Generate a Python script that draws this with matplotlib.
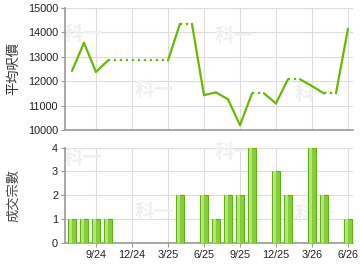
import matplotlib
matplotlib.use("Agg")
import matplotlib.pyplot as plt

plt.rcParams['font.family'] = ['Liberation Sans', 'Noto Sans CJK TC', 'DejaVu Sans']

# datos (jul/24 - jun/26), None = mes sin transacciones
months = ["7/24", "8/24", "9/24", "10/24", "11/24", "12/24", "1/25", "2/25",
          "3/25", "4/25", "5/25", "6/25", "7/25", "8/25", "9/25", "10/25",
          "11/25", "12/25", "1/26", "2/26", "3/26", "4/26", "5/26", "6/26"]
avg_price = [12420, 13570, 12380, 12850, None, None, None, None,
             None, 14350, None, 11430, 11540, 11260, 10200, 11500,
             None, 11090, 12080, None, 11800, 11500, None, 14150]
deals = [1, 1, 1, 1, 0, 0, 0, 0, 0, 2, 0, 2, 1, 2, 2, 4, 0, 3, 2, 0, 4, 2, 0, 1]
tick_idx = [2, 5, 8, 11, 14, 17, 20, 23]

green = '#66bb00'
grid_c = '#dcdcdc'

fig = plt.figure(figsize=(3.6, 2.7), dpi=100)
ax1 = fig.add_axes([0.1806, 0.5185, 0.8, 0.4519])
ax2 = fig.add_axes([0.1806, 0.0989, 0.8, 0.3548])

# ------------------------------
# precio medio (linea)
# ------------------------------
x = list(range(len(months)))
filled = []
last = None
for v in avg_price:
    if v is not None:
        last = v
    filled.append(last)

for i in range(1, len(x)):
    style = '-' if avg_price[i] is not None else ':'
    ax1.plot([x[i-1], x[i]], [filled[i-1], filled[i]], color=green,
             linestyle=style, linewidth=1.6, solid_capstyle='round', zorder=3)

ax1.set_ylim(10000, 15000)
ax1.set_yticks(range(10000, 15001, 1000))
ax1.set_ylabel("平均呎價", fontsize=9.5, color='#333333')

# ------------------------------
# numero de transacciones (barras)
# ------------------------------
ax2.bar(x, deals, width=0.72, color='#86cf38', edgecolor='#5fb210',
        linewidth=0.8, zorder=3)
ax2.bar([i - 0.12 for i in x], deals, width=0.22, color='#b4e57c',
        linewidth=0, zorder=4)
ax2.set_ylim(0, 4)
ax2.set_yticks(range(0, 5))
ax2.set_ylabel("成交宗數", fontsize=9.5, color='#444444')

for ax in (ax1, ax2):
    ax.set_xlim(-0.58, 23.42)
    ax.set_xticks(tick_idx)
    ax.grid(True, color=grid_c, linewidth=0.8, zorder=0)
    ax.set_axisbelow(True)
    ax.yaxis.set_label_coords(-0.155, 0.5)
    for s in ('top', 'right'):
        ax.spines[s].set_visible(False)
    for s in ('left', 'bottom'):
        ax.spines[s].set_color('#999999')
        ax.spines[s].set_linewidth(1.2)
    ax.tick_params(axis='both', labelsize=7.8, colors='#999999',
                   labelcolor='#222222', length=3, width=0.8, pad=2)

ax1.tick_params(axis='x', labelbottom=False, length=0)
ax2.set_xticklabels([months[i] for i in tick_idx])

# marcas de agua (pixeles de la figura)
wm_top = [(64, 34), (135, 91), (215, 37), (295, 95)]
wm_bot = [(64, 158), (135, 213), (215, 153), (295, 215)]
for ax, pos in ((ax1, wm_top), (ax2, wm_bot)):
    for px, py in pos:
        ax.text(px / 360, 1 - py / 270, "科一", transform=fig.transFigure,
                fontsize=14, fontweight='bold', color='#f0f0f0', zorder=1,
                ha='left', va='center', clip_on=False,
                family=['Noto Sans CJK TC'])

fig.savefig("out.png", dpi=100)
